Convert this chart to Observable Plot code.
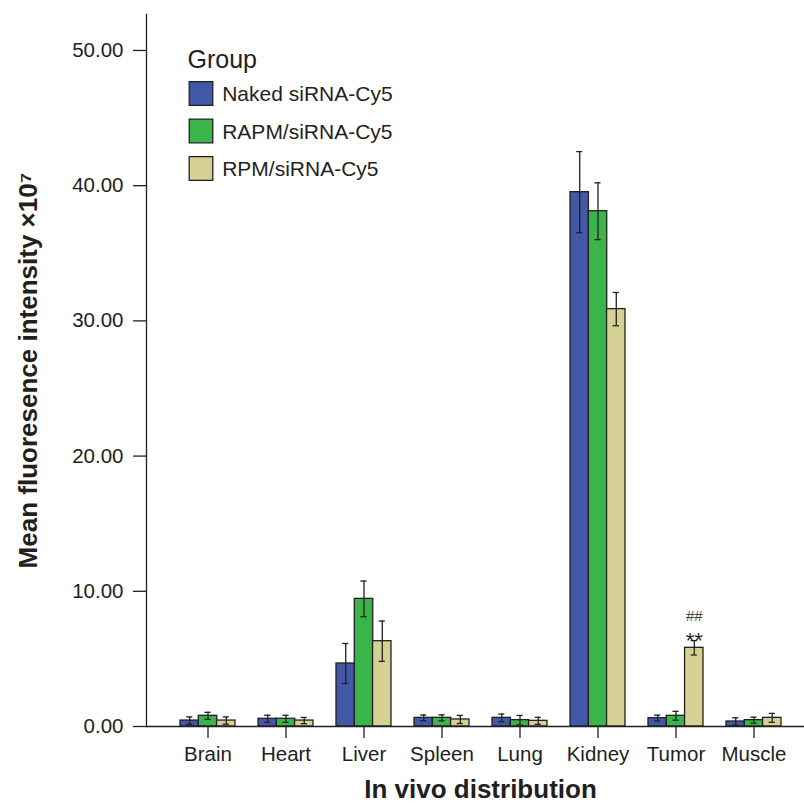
<!DOCTYPE html>
<html>
<head>
<meta charset="utf-8">
<script src="https://cdn.jsdelivr.net/npm/d3@7"></script>
<script src="https://cdn.jsdelivr.net/npm/@observablehq/plot@0.6"></script>
<style>
  html, body { margin: 0; padding: 0; background: white; }
  #chart svg { overflow: visible; }
</style>
</head>
<body>
<div id="chart"></div>
<script>
// ---- data ----
const organs = ["Brain", "Heart", "Liver", "Spleen", "Lung", "Kidney", "Tumor", "Muscle"];
const groups = ["Naked siRNA-Cy5", "RAPM/siRNA-Cy5", "RPM/siRNA-Cy5"];
const nakedMean = [0.44, 0.57, 4.66, 0.64, 0.64, 39.52, 0.62, 0.37];
const nakedErr  = [0.27, 0.26, 1.48, 0.21, 0.28, 3.00, 0.22, 0.27];
const rapmMean  = [0.79, 0.57, 9.44, 0.64, 0.47, 38.11, 0.79, 0.47];
const rapmErr   = [0.26, 0.26, 1.32, 0.22, 0.35, 2.10, 0.33, 0.22];
const rpmMean   = [0.44, 0.44, 6.31, 0.52, 0.42, 30.87, 5.82, 0.64];
const rpmErr    = [0.27, 0.23, 1.49, 0.30, 0.26, 1.23, 0.53, 0.33];
const yTicks = [0, 10, 20, 30, 40, 50];
const annotOrgan = ["Tumor", "Tumor"];
const annotGroup = [2, 2];
const annotLabel = ["**", "##"];
const legendTitle = "Group";
const xTitle = "In vivo distribution";
const yTitle = "Mean fluoresence intensity ×10⁷";

// ---- styles ----
const colors = ["#4358a6", "#39b54a", "#d5d194"];
const ink = "#231f20";
const font = "'Liberation Sans', Arial, Helvetica, sans-serif";

const means = [nakedMean, rapmMean, rpmMean];
const errs = [nakedErr, rapmErr, rpmErr];
const rows = [];
groups.forEach((g, gi) => organs.forEach((o, oi) => rows.push({
  organ: o, group: g, gi, mean: means[gi][oi], lo: means[gi][oi] - errs[gi][oi], hi: means[gi][oi] + errs[gi][oi]
})));
const annots = annotLabel.map((label, i) => {
  const oi = organs.indexOf(annotOrgan[i]);
  const gi = annotGroup[i];
  return {organ: annotOrgan[i], gi, label, top: means[gi][oi] + errs[gi][oi]};
});

// band geometry
const xRange = [146, 815];
const pIn = 0.3, pOut = 0.42;
const step = (xRange[1] - xRange[0]) / (organs.length - pIn + 2 * pOut);
const bw = step * (1 - pIn);
const w = bw / 3;
const capHalf = 3;

const marks = [];
groups.forEach((g, gi) => {
  const sub = rows.filter(d => d.gi === gi);
  marks.push(Plot.barY(sub, {x: "organ", y: "mean", fill: colors[gi], stroke: ink, strokeWidth: 1.3,
    insetLeft: gi * w, insetRight: (2 - gi) * w}));
});
groups.forEach((g, gi) => {
  const sub = rows.filter(d => d.gi === gi);
  const dx = (gi - 1) * w;
  marks.push(Plot.ruleX(sub, {x: "organ", y1: "lo", y2: "hi", dx, stroke: ink, strokeWidth: 1.3}));
  marks.push(Plot.tickY(sub, {x: "organ", y: "hi", dx, stroke: ink, strokeWidth: 1.3, insetLeft: bw / 2 - capHalf, insetRight: bw / 2 - capHalf}));
  marks.push(Plot.tickY(sub, {x: "organ", y: "lo", dx, stroke: ink, strokeWidth: 1.3, insetLeft: bw / 2 - capHalf, insetRight: bw / 2 - capHalf}));
});
// significance marks
marks.push(Plot.text(annots.filter(d => d.label === "**"), {x: "organ", y: "top", text: "label", dx: (annots[0].gi - 1) * w, dy: 0, fontSize: 22, fill: ink}));
marks.push(Plot.text(annots.filter(d => d.label === "##"), {x: "organ", y: "top", text: "label", dx: (annots[1].gi - 1) * w, dy: -24, fontSize: 15, fill: "#444"}));

// axes
marks.push(Plot.ruleY([0], {stroke: ink, strokeWidth: 1.3}));
marks.push(Plot.frame({anchor: "left", stroke: ink, strokeWidth: 1.3}));
marks.push(Plot.axisY({ticks: yTicks, tickSize: 13, tickPadding: 10, tickFormat: d => d.toFixed(2), fontSize: 20.5, label: null, color: ink, strokeWidth: 1.3}));
marks.push(Plot.axisX({tickSize: 12, tickPadding: 8, fontSize: 20.5, label: null, color: ink, strokeWidth: 1.3}));
marks.push(Plot.text([xTitle], {frameAnchor: "bottom", textAnchor: "middle", lineAnchor: "middle", text: d => d, dx: 5, dy: 63.5, fontSize: 26, fontWeight: "bold", fill: ink}));
marks.push(Plot.text([yTitle], {frameAnchor: "left", textAnchor: "middle", lineAnchor: "middle", text: d => d, rotate: -90, dx: -118, fontSize: 26, fontWeight: "bold", fill: ink}));

// legend
marks.push(Plot.text([legendTitle], {frameAnchor: "top-left", text: d => d, textAnchor: "start", lineAnchor: "middle", dx: 41, dy: 45, fontSize: 25, fill: ink}));
groups.forEach((g, gi) => {
  marks.push(Plot.dot([g], {frameAnchor: "top-left", symbol: "square", r: 13.3, fill: colors[gi], stroke: ink, strokeWidth: 1.3, dx: 54.5, dy: 79 + gi * 37.5}));
  marks.push(Plot.text([g], {frameAnchor: "top-left", text: d => d, textAnchor: "start", lineAnchor: "middle", dx: 75.7, dy: 80 + gi * 37.5, fontSize: 21, fill: ink}));
});

const chart = Plot.plot({
  width: 804,
  height: 804,
  marginLeft: 146,
  marginRight: 0,
  marginTop: 14,
  marginBottom: 78,
  style: {fontFamily: font, background: "white", color: ink},
  x: {domain: organs, range: xRange, paddingInner: pIn, paddingOuter: pOut},
  y: {domain: [0, 52.66]},
  marks
});
document.getElementById("chart").appendChild(chart);
</script>
</body>
</html>
